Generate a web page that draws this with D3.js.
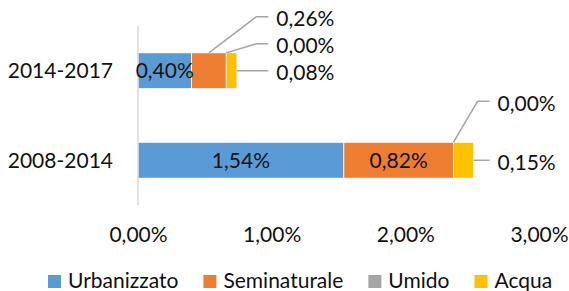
<!DOCTYPE html>
<html>
<head>
<meta charset="utf-8">
<script src="https://cdn.jsdelivr.net/npm/d3@7"></script>
<style>
  html, body { margin: 0; padding: 0; background: #fff; }
  svg { display: block; font-family: Lato, "Open Sans", sans-serif; }
</style>
</head>
<body>
<svg id="chart" width="569" height="291"></svg>
<script>
// periods, top to bottom
const periods = ["2014-2017", "2008-2014"];
const series = ["Urbanizzato", "Seminaturale", "Umido", "Acqua"];
const colors = ["#5B9BD5", "#ED7D31", "#A5A5A5", "#FFC000"];
// values in percent, one array per series (order follows periods)
const urbanizzato = [0.40, 1.54];
const seminaturale = [0.26, 0.82];
const umido = [0.00, 0.00];
const acqua = [0.08, 0.15];
const xTicks = [0, 1, 2, 3];

const values = [urbanizzato, seminaturale, umido, acqua];

const svg = d3.select("svg#chart");
const fontSize = 21;

const locale = d3.formatLocale({ decimal: ",", thousands: ".", grouping: [3], currency: ["", "€"] });
const fmt = v => locale.format(".2f")(v) + "%";

const x = d3.scaleLinear().domain([0, 3]).range([138, 539]);
const y = d3.scaleBand().domain(periods).range([26, 205]).paddingInner(0.6).paddingOuter(0.3);

// stack the series per period
const rows = periods.map((p, i) => {
    const r = { period: p };
    series.forEach((s, j) => r[s] = values[j][i]);
    return r;
});
const stacked = d3.stack().keys(series)(rows);

// bars
const layers = svg.append("g").selectAll("g")
    .data(stacked)
    .join("g")
    .attr("fill", (_, i) => colors[i]);

layers.selectAll("rect")
    .data(d => d)
    .join("rect")
    .attr("x", d => x(d[0]))
    .attr("y", d => y(d.data.period))
    .attr("width", d => Math.max(0, x(d[1]) - x(d[0])))
    .attr("height", y.bandwidth())
    .attr("stroke", "#fff")
    .attr("stroke-width", 0.75);

// y axis line
svg.append("line")
    .attr("x1", x(0)).attr("x2", x(0))
    .attr("y1", 26).attr("y2", 205)
    .attr("stroke", "#D9D9D9")
    .attr("stroke-width", 1.5);

// category labels
svg.append("g").selectAll("text")
    .data(periods)
    .join("text")
    .attr("x", 113)
    .attr("y", d => y(d) + y.bandwidth() / 2)
    .attr("dy", "0.35em")
    .attr("text-anchor", "end")
    .attr("font-size", fontSize)
    .attr("fill", "#111")
    .text(d => d);

// x axis tick labels
const xAxis = svg.append("g")
    .attr("transform", "translate(0,225)")
    .call(d3.axisBottom(x).tickValues(xTicks).tickSize(0).tickPadding(0).tickFormat(fmt));
xAxis.select(".domain").remove();
xAxis.selectAll("text")
    .attr("font-size", fontSize)
    .attr("font-family", "Lato, 'Open Sans', sans-serif")
    .attr("fill", "#111")
    .attr("dy", "0.8em");

// labels inside the bars
const inside = [[0, 0], [0, 1], [1, 1]]; // [series, period]
svg.append("g").selectAll("text")
    .data(inside)
    .join("text")
    .attr("x", ([s, p]) => (x(stacked[s][p][0]) + x(stacked[s][p][1])) / 2)
    .attr("y", ([s, p]) => y(periods[p]) + y.bandwidth() / 2)
    .attr("dy", "0.35em")
    .attr("text-anchor", "middle")
    .attr("font-size", fontSize)
    .attr("fill", "#111")
    .text(([s, p]) => fmt(values[s][p]));

// outside callout labels: anchor on the segment, label end point
// anchor: "top" = middle of the top edge, "end" = right end at bar middle
const callouts = [
    { s: 1, p: 0, anchor: "top", ex: 0.975, dy: -54 },
    { s: 2, p: 0, anchor: "top", ex: 0.975, dy: -27 },
    { s: 3, p: 0, anchor: "end", ex: 0.975, dy: 0 },
    { s: 2, p: 1, anchor: "top", ex: 2.63, dy: -59 },
    { s: 3, p: 1, anchor: "end", ex: 2.63, dy: 0 }
];

const cg = svg.append("g");
callouts.forEach(c => {
    const seg = stacked[c.s][c.p];
    const top = y(periods[c.p]);
    const mid = top + y.bandwidth() / 2;
    let ax, ay;
    if (c.anchor === "top") {
        ax = (x(seg[0]) + x(seg[1])) / 2;
        ay = top;
    } else {
        ax = x(seg[1]);
        ay = mid;
    }
    const endX = x(c.ex);
    const ly = mid + c.dy;
    const pts = c.dy === 0 ? [[ax, ay], [endX, ly]] : [[ax, ay], [endX - 12, ly], [endX, ly]];
    cg.append("path")
        .attr("d", d3.line()(pts))
        .attr("fill", "none")
        .attr("stroke", "#A6A6A6")
        .attr("stroke-width", 1.5);
    cg.append("text")
        .attr("x", endX + 8)
        .attr("y", ly + 2)
        .attr("dy", "0.35em")
        .attr("font-size", fontSize)
        .attr("fill", "#111")
        .text(fmt(values[c.s][c.p]));
});

// legend
const legend = svg.append("g").attr("transform", "translate(48,275)");
let lx = 0;
series.forEach((s, i) => {
    const item = legend.append("g").attr("transform", `translate(${lx},0)`);
    item.append("rect")
        .attr("width", 13).attr("height", 13)
        .attr("fill", colors[i]);
    const t = item.append("text")
        .attr("x", 20)
        .attr("y", 13)
        .attr("font-size", fontSize)
        .attr("fill", "#111")
        .text(s);
    lx += 20 + t.node().getComputedTextLength() + 25;
});
</script>
</body>
</html>
